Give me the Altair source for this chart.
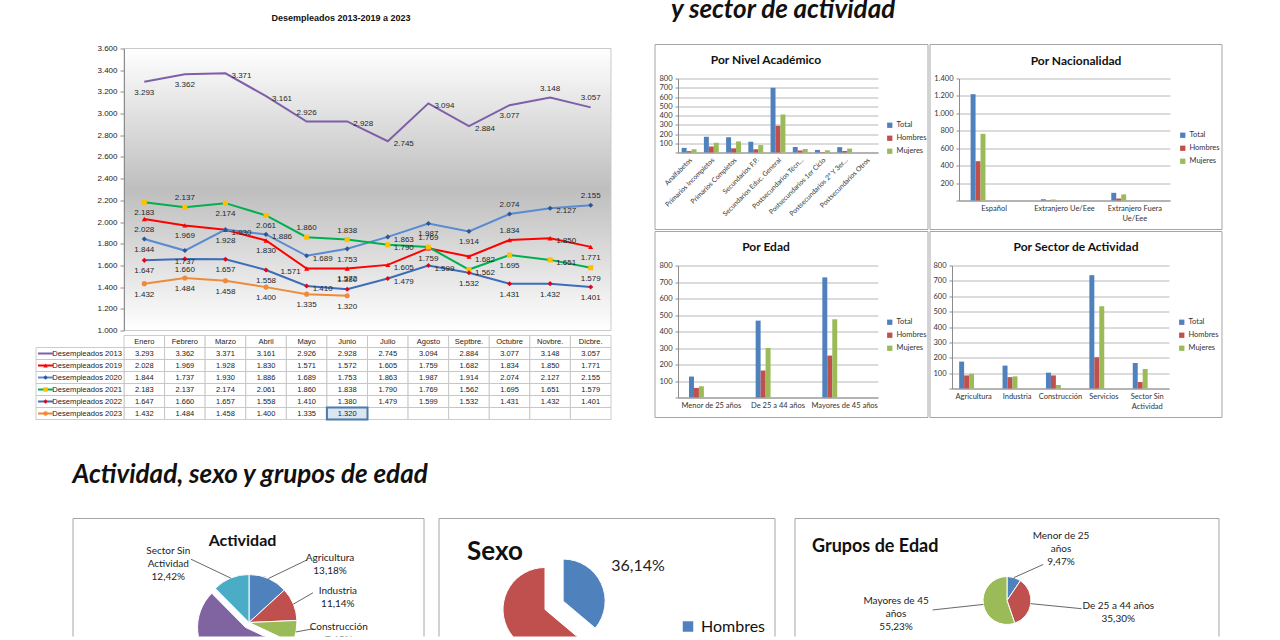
import textwrap
import altair as alt
import pandas as pd

# ------------------------------------------------------------------ data
months = ["Enero", "Febrero", "Marzo", "Abril", "Mayo", "Junio", "Julio",
          "Agosto", "Septbre.", "Octubre", "Novbre.", "Dicbre."]
series_names = ["Desempleados 2013", "Desempleados 2019", "Desempleados 2020",
                "Desempleados 2021", "Desempleados 2022", "Desempleados 2023"]
desempleados_2013 = [3293, 3362, 3371, 3161, 2926, 2928, 2745, 3094, 2884, 3077, 3148, 3057]
desempleados_2019 = [2028, 1969, 1928, 1830, 1571, 1572, 1605, 1759, 1682, 1834, 1850, 1771]
desempleados_2020 = [1844, 1737, 1930, 1886, 1689, 1753, 1863, 1987, 1914, 2074, 2127, 2155]
desempleados_2021 = [2183, 2137, 2174, 2061, 1860, 1838, 1790, 1769, 1562, 1695, 1651, 1579]
desempleados_2022 = [1647, 1660, 1657, 1558, 1410, 1380, 1479, 1599, 1532, 1431, 1432, 1401]
desempleados_2023 = [1432, 1484, 1458, 1400, 1335, 1320]
line_ticks = [1000, 1200, 1400, 1600, 1800, 2000, 2200, 2400, 2600, 2800, 3000, 3200, 3400, 3600]

grupos = ["Total", "Hombres", "Mujeres"]

nivel_cats = ["Analfabetos", "Primarios Incompletos", "Primarios Completos", "Secundarios F.P.",
              "Secundarios Educ. General", "Postsecundarios Técn…", "Postsecundarios 1er Ciclo",
              "Postsecundarios 2º Y 3er…", "Postsecundarios Otros"]
nivel_total = [50, 170, 165, 115, 700, 60, 28, 58, 0]
nivel_hombres = [15, 65, 45, 35, 290, 22, 4, 16, 0]
nivel_mujeres = [35, 105, 120, 80, 410, 38, 24, 42, 0]

nac_cats = ["Español", "Extranjero Ue/Eee", "Extranjero Fuera Ue/Eee"]
nac_total = [1220, 15, 88]
nac_hombres = [451, 3, 23]
nac_mujeres = [765, 11, 70]

edad_cats = ["Menor de 25 años", "De 25 a 44 años", "Mayores de 45 años"]
edad_total = [127, 466, 728]
edad_hombres = [58, 163, 254]
edad_mujeres = [68, 300, 474]

sector_cats = ["Agricultura", "Industria", "Construcción", "Servicios", "Sector Sin Actividad"]
sector_total = [175, 149, 103, 737, 166]
sector_hombres = [85, 74, 85, 203, 42]
sector_mujeres = [96, 79, 22, 535, 127]

act_cats = ["Agricultura", "Industria", "Construcción", "Servicios", "Sector Sin Actividad"]
act_pct = [13.18, 11.14, 7.65, 55.61, 12.42]
sexo_cats = ["Hombres", "Mujeres"]
sexo_pct = [36.14, 63.86]
grupo_cats = ["Menor de 25 años", "De 25 a 44 años", "Mayores de 45 años"]
grupo_pct = [9.47, 35.30, 55.23]

# ------------------------------------------------------------------ styles
ARIAL = "Liberation Sans"
LATO = "Lato"
BOX = "#A6A6A6"
THOUSANDS = "replace(format(datum.value, ','), ',', '.')"
line_colors = ["#7F5FA8", "#FF0000", "#5A8AD0", "#00B050", "#3E6DB8", "#EE8B3A"]
marker_colors = ["#7F5FA8", "#FF0000", "#2F5597", "#FFC000", "#E3061B", "#EE8B3A"]
marker_shapes = ["circle", "triangle-up", "diamond", "square", "diamond", "circle"]
bar_colors = ["#4F81BD", "#C0504D", "#9BBB59"]
pie_colors5 = ["#4F81BD", "#C0504D", "#9BBB59", "#8064A2", "#4BACC6"]
# data-label placement per series (B below, A above, R right, L left), as in the original workbook
label_place = {
    "Desempleados 2013": "B B R R A R R R R B A A",
    "Desempleados 2019": "B B B B L B R B R A R B",
    "Desempleados 2020": "B B R R R B R B B A R A",
    "Desempleados 2021": "B A B B A A R A R B R B",
    "Desempleados 2022": "B B B B R A R R B B B B",
    "Desempleados 2023": "B B B B B B",
}
place_style = {
    "B": dict(dx=0, dy=11, align="center"),
    "A": dict(dx=0, dy=-9, align="center"),
    "R": dict(dx=6, dy=3, align="left"),
    "L": dict(dx=-6, dy=3, align="right"),
}

one = pd.DataFrame({"k": [0]})


def fmt_int(v):
    return f"{v:,}".replace(",", ".")


def txt(text, x, y, size, font=LATO, weight="normal", style="normal", align="left",
        baseline="alphabetic", color="#111"):
    return alt.Chart(one).mark_text(
        text=text, font=font, fontSize=size, fontWeight=weight, fontStyle=style,
        align=align, baseline=baseline, color=color
    ).encode(x=alt.value(x), y=alt.value(y))


# ------------------------------------------------------------------ line chart
LINE_W, LINE_H, TABLE_H, LABEL_COL = 487, 282, 84, 88

line_rows = []
for name, vals in zip(series_names, [desempleados_2013, desempleados_2019, desempleados_2020,
                                     desempleados_2021, desempleados_2022, desempleados_2023]):
    places = label_place[name].split()
    for m, v, p in zip(months, vals, places):
        line_rows.append({"serie": name, "mes": m, "valor": v, "txt": fmt_int(v), "pos": p})
df_line = pd.DataFrame(line_rows)

X_LINE = alt.X("mes:N", sort=months, axis=None,
               scale=alt.Scale(type="point", domain=months, padding=0.5))
Y_LINE = alt.Y("valor:Q", scale=alt.Scale(domain=[1000, 3600], nice=False, zero=False),
               axis=alt.Axis(values=line_ticks, title=None, grid=False, labelExpr=THOUSANDS,
                             labelFont=ARIAL, labelFontSize=8, labelColor="#222",
                             domainColor="#8C8C8C", tickColor="#8C8C8C", tickSize=4,
                             labelPadding=3, zindex=1))
line_color = alt.Color("serie:N", scale=alt.Scale(domain=series_names, range=line_colors), legend=None)
marker_fill = alt.Fill("serie:N", scale=alt.Scale(domain=series_names, range=marker_colors), legend=None)
marker_shape = alt.Shape("serie:N", scale=alt.Scale(domain=series_names, range=marker_shapes), legend=None)

gradient = alt.LinearGradient(
    gradient="linear", x1=0, x2=0, y1=0, y2=1,
    stops=[alt.GradientStop(color="#FFFFFF", offset=0),
           alt.GradientStop(color="#BEBEBE", offset=0.5),
           alt.GradientStop(color="#FFFFFF", offset=1)])
bg = alt.Chart(one).mark_rect(fill=gradient, stroke="#C9C9C9", strokeWidth=1).encode(
    x=alt.value(0), x2=alt.value(LINE_W), y=alt.value(0), y2=alt.value(LINE_H))
anchor = alt.Chart(one).mark_rule(opacity=0).encode(
    x=alt.value(0), x2=alt.value(2), y=alt.value(-48))
line_title = txt("Desempleados 2013-2019 a 2023", 217, -31, 9, font=ARIAL, weight="bold",
                 align="center", baseline="middle")
lines = alt.Chart(df_line).mark_line(strokeWidth=2).encode(x=X_LINE, y=Y_LINE, color=line_color)
points = alt.Chart(df_line).transform_filter(alt.datum.serie != series_names[0]).mark_point(
    filled=True, size=26, strokeWidth=0, opacity=1).encode(
    x=X_LINE, y=Y_LINE, fill=marker_fill, shape=marker_shape)
labels = [
    alt.Chart(df_line).transform_filter(alt.datum.pos == code).mark_text(
        font=ARIAL, fontSize=8, color="#262626", baseline="middle", **st).encode(
        x=X_LINE, y=Y_LINE, text="txt:N")
    for code, st in place_style.items()
]
line_chart = alt.layer(bg, anchor, line_title, lines, points, *labels).properties(
    width=LINE_W, height=LINE_H)

# ------------------------------------------------------------------ table under the line chart
HEADER = "Mes"
table_rows = [HEADER] + series_names
tab = []
for fila, vals in zip(table_rows, [months, desempleados_2013, desempleados_2019, desempleados_2020,
                                   desempleados_2021, desempleados_2022, desempleados_2023]):
    for i, m in enumerate(months):
        if fila == HEADER:
            t = m
        else:
            t = fmt_int(vals[i]) if i < len(vals) else ""
        tab.append({"fila": fila, "mes": m, "txt": t})
df_table = pd.DataFrame(tab)
df_rowlab = pd.DataFrame({"fila": series_names})

xs_tab = alt.Scale(type="band", domain=months, paddingInner=0, paddingOuter=0)
ys_tab = alt.Scale(type="band", domain=table_rows, paddingInner=0, paddingOuter=0)
X_TAB = alt.X("mes:N", scale=xs_tab, axis=None)
Y_TAB = alt.Y("fila:N", scale=ys_tab, axis=None)
X_TAB_C = alt.X("mes:N", scale=xs_tab, axis=None, bandPosition=0.5)
Y_TAB_C = alt.Y("fila:N", scale=ys_tab, axis=None, bandPosition=0.5)

grid = alt.Chart(df_table).mark_rect(fill="white", stroke="#BFBFBF", strokeWidth=0.8).encode(
    x=X_TAB, y=Y_TAB)
highlight = alt.Chart(df_table).transform_filter(
    (alt.datum.fila == "Desempleados 2023") & (alt.datum.mes == "Junio")).mark_rect(
    fill="#DCE6F1", stroke="#4A7AAE", strokeWidth=2).encode(x=X_TAB, y=Y_TAB)
labcells = alt.Chart(df_rowlab).mark_rect(fill="white", stroke="#BFBFBF", strokeWidth=0.8).encode(
    x=alt.value(-LABEL_COL), x2=alt.value(0), y=Y_TAB)
rowlab = alt.Chart(df_rowlab).mark_text(align="right", baseline="middle", dx=-2, font=ARIAL,
                                        fontSize=7.6, color="#222").encode(
    x=alt.value(0), y=Y_TAB_C, text="fila:N")
sym_line = alt.Chart(df_rowlab.assign(serie=df_rowlab["fila"])).mark_rule(strokeWidth=2).encode(
    x=alt.value(-86), x2=alt.value(-71), y=Y_TAB_C, color=line_color)
sym_pt = alt.Chart(df_rowlab.assign(serie=df_rowlab["fila"])).transform_filter(
    alt.datum.serie != series_names[0]).mark_point(filled=True, size=20, strokeWidth=0, opacity=1).encode(
    x=alt.value(-78.5), y=Y_TAB_C, fill=marker_fill, shape=marker_shape)
cells = alt.Chart(df_table).mark_text(font=ARIAL, fontSize=7.5, color="#222", baseline="middle").encode(
    x=X_TAB_C, y=Y_TAB_C, text="txt:N")
table_chart = alt.layer(grid, highlight, labcells, rowlab, sym_line, sym_pt, cells).properties(
    width=LINE_W, height=TABLE_H)


# ------------------------------------------------------------------ grouped bar panels
def wrap_expr(cats, width):
    expr = "datum.label"
    for c in cats:
        parts = textwrap.wrap(c, width)
        if len(parts) > 1:
            arr = "[" + ", ".join("'" + p + "'" for p in parts) + "]"
            expr = f"datum.label == '{c}' ? {arr} : ({expr})"
    return expr


def bar_panel(title, cats, total, hombres, mujeres, W, H, ytop, ymax, ystep, box, title_xy,
              legend_xy, label_angle=0, label_size=7.5, wrap=40, extra=()):
    df = pd.DataFrame([{"cat": c, "grupo": g, "valor": v}
                       for c, t, h, m in zip(cats, total, hombres, mujeres)
                       for g, v in zip(grupos, (t, h, m))])
    bars = alt.Chart(df).mark_bar().encode(
        x=alt.X("cat:N", sort=cats, title=None,
                scale=alt.Scale(domain=cats, paddingInner=0.33, paddingOuter=0.165),
                axis=alt.Axis(labelAngle=label_angle, labelFont=LATO, labelFontSize=label_size,
                              labelColor="#333", ticks=False, domainColor="#8C8C8C",
                              labelPadding=4, labelExpr=wrap_expr(cats, wrap), labelLineHeight=10)),
        xOffset=alt.XOffset("grupo:N", sort=grupos, scale=alt.Scale(domain=grupos, paddingInner=0)),
        y=alt.Y("valor:Q", title=None,
                scale=alt.Scale(domain=[0, ymax], range=[H, ytop], nice=False, zero=True),
                axis=alt.Axis(values=list(range(0, ymax + 1, ystep)),
                              labelExpr="datum.value == 0 ? '' : " + THOUSANDS,
                              labelFont=LATO, labelFontSize=7.5, labelColor="#333",
                              grid=True, gridColor="#A6A6A6", gridWidth=0.8,
                              domainColor="#8C8C8C", tickColor="#8C8C8C", tickSize=3,
                              labelPadding=3)),
        color=alt.Color("grupo:N", scale=alt.Scale(domain=grupos, range=bar_colors),
                        legend=alt.Legend(orient="none", legendX=legend_xy[0], legendY=legend_xy[1],
                                          title=None, symbolType="square", symbolSize=28,
                                          symbolStrokeWidth=0, labelFont=LATO, labelFontSize=7.5,
                                          labelColor="#333", rowPadding=4, labelOffset=3)),
    )
    frame = alt.Chart(one).mark_rect(fill="white", fillOpacity=0, stroke=BOX, strokeWidth=1).encode(
        x=alt.value(box[0]), x2=alt.value(box[1]), y=alt.value(box[2]), y2=alt.value(box[3]))
    ttl = txt(title, title_xy[0], title_xy[1], 12, weight="bold", align="center", baseline="middle")
    return alt.layer(frame, *extra, ttl, bars).properties(width=W, height=H)


heading1 = txt("y sector de actividad", -7, -31, 26, weight="bold", style="italic")
b1 = bar_panel("Por Nivel Académico", nivel_cats, nivel_total, nivel_hombres, nivel_mujeres,
               W=200, H=104, ytop=30, ymax=800, ystep=100, box=(-23, 250, -4, 181),
               title_xy=(88, 11), legend_xy=(208, 73), label_angle=-45, label_size=6.8,
               extra=(heading1,))
b2 = bar_panel("Por Nacionalidad", nac_cats, nac_total, nac_hombres, nac_mujeres,
               W=211, H=152, ytop=30, ymax=1400, ystep=200, box=(-29, 263, -4, 181),
               title_xy=(117, 12), legend_xy=(220, 83), wrap=17)
b3 = bar_panel("Por Edad", edad_cats, edad_total, edad_hombres, edad_mujeres,
               W=200, H=132, ytop=0, ymax=800, ystep=100, box=(-23, 250, -34, 152),
               title_xy=(88, -19), legend_xy=(208, 53))
b4 = bar_panel("Por Sector de Actividad", sector_cats, sector_total, sector_hombres, sector_mujeres,
               W=217, H=123, ytop=0, ymax=800, ystep=100, box=(-22, 270, -34, 152),
               title_xy=(124, -19), legend_xy=(226, 53), wrap=12)


# ------------------------------------------------------------------ pies
def pie_panel(cats, pcts, colors, W, H, cx, cy, R, explode, lab, lab_size, wrap, show_name,
              leader, box_left, texts=(), legend=None):
    rows = []
    for c, p in zip(cats, pcts):
        pct = f"{p:.2f}%".replace(".", ",")
        lbl = "\n".join(textwrap.wrap(c, wrap) + [pct]) if show_name else pct
        rows.append({"cat": c, "pct": p, "lbl": lbl, "nl": lbl.count("\n") + 1})
    df = pd.DataFrame(rows)
    A, B, C, D0 = lab
    lh = lab_size + 3
    kx, ky, E = leader if leader else (0, 0, 0)
    ex_expr = "0"
    for c, e in explode.items():
        ex_expr = f"datum.cat == '{c}' ? {e} : ({ex_expr})"
    base = alt.Chart(df).transform_window(cum="sum(pct)", frame=[None, 0]).transform_calculate(
        a0="(datum.cum - datum.pct) / 100 * 2 * PI",
        a1="datum.cum / 100 * 2 * PI",
        mid="(datum.a0 + datum.a1) / 2",
        sn="sin(datum.mid)",
        cs="cos(datum.mid)",
        ex=ex_expr,
        acx=f"{cx} + datum.ex * datum.sn",
        acy=f"{cy} - datum.ex * datum.cs",
        lx=f"{cx} + (datum.sn >= 0 ? 1 : -1) * ({A} + {B} * abs(datum.sn))",
        lyc=f"{cy} - {C} * datum.cs + {D0}",
        ly=f"datum.lyc - (datum.nl - 1) * {lh} / 2",
        p0x=f"datum.acx + {R} * datum.sn",
        p0y=f"datum.acy - {R} * datum.cs",
        p1x=f"{cx} + {kx} * (datum.lx - {cx})",
        p1y=f"{cy} + {ky} * (datum.lyc - {cy}) - {E}",
    )
    arcs = base.mark_arc(radius=R, clip=True, stroke="white", strokeWidth=1).encode(
        theta=alt.Theta("a0:Q", scale=None), theta2=alt.Theta2("a1:Q"),
        x=alt.X("acx:Q", scale=None), y=alt.Y("acy:Q", scale=None),
        color=alt.Color("cat:N", scale=alt.Scale(domain=cats, range=colors),
                        legend=legend if legend is not None else None))
    layers = []
    rule_style = dict(color=BOX, strokeWidth=1)
    layers.append(alt.Chart(one).mark_rule(**rule_style).encode(
        x=alt.value(box_left), x2=alt.value(W), y=alt.value(0)))
    layers.append(alt.Chart(one).mark_rule(**rule_style).encode(
        x=alt.value(box_left), y=alt.value(0), y2=alt.value(H)))
    layers.append(alt.Chart(one).mark_rule(**rule_style).encode(
        x=alt.value(W), y=alt.value(0), y2=alt.value(H)))
    layers.extend(texts)
    layers.append(arcs)
    if leader:
        layers.append(base.mark_rule(clip=True, color="#404040", strokeWidth=0.8).encode(
            x=alt.X("p0x:Q", scale=None), y=alt.Y("p0y:Q", scale=None),
            x2=alt.X2("p1x:Q"), y2=alt.Y2("p1y:Q")))
    layers.append(base.mark_text(lineBreak="\n", font=LATO, fontSize=lab_size, color="#222",
                                 align="center", baseline="middle", lineHeight=lh,
                                 clip=True).encode(
        x=alt.X("lx:Q", scale=None), y=alt.Y("ly:Q", scale=None), text="lbl:N"))
    return alt.layer(*layers).properties(width=W, height=H)


PIE_H = 118
heading2 = txt("Actividad, sexo y grupos de edad", -51.5, -36, 26, weight="bold", style="italic")
p1 = pie_panel(act_cats, act_pct, pie_colors5, W=300, H=PIE_H, cx=125, cy=104, R=48,
               explode={"Servicios": 6}, lab=(75, 15, 62, -1), lab_size=10, wrap=12,
               show_name=True, leader=(0.72, 1.0, 5), box_left=-51,
               texts=(heading2, txt("Actividad", 118.5, 27, 16, weight="bold", align="center")))
sexo_legend = alt.Legend(orient="none", legendX=241, legendY=100, title=None, values=["Hombres"],
                         symbolType="square", symbolSize=110, symbolStrokeWidth=0,
                         labelFont=LATO, labelFontSize=16, labelColor="#111", labelOffset=5)
p2 = pie_panel(sexo_cats, sexo_pct, ["#4F81BD", "#C0504D"], W=336, H=PIE_H, cx=106, cy=91, R=42,
               explode={"Hombres": 20}, lab=(93, 0, 104, 0), lab_size=16, wrap=20, show_name=False,
               leader=None, box_left=0,
               texts=(txt("Sexo", 28, 41, 26, weight="bold"),), legend=sexo_legend)
p3 = pie_panel(grupo_cats, grupo_pct, ["#4F81BD", "#C0504D", "#9BBB59"], W=424, H=PIE_H,
               cx=212, cy=82, R=24, explode={}, lab=(30, 82, 58, 4), lab_size=10, wrap=15,
               show_name=True, leader=(0.67, 0.7, 0), box_left=0,
               texts=(txt("Grupos de Edad", 17, 33, 18, weight="bold"),))

# ------------------------------------------------------------------ layout
IND = dict(color="independent", fill="independent", shape="independent",
           x="independent", y="independent")

left_block = alt.vconcat(line_chart, table_chart, spacing=0).resolve_scale(**IND)
right_block = alt.vconcat(
    alt.hconcat(b1, b2, spacing=0).resolve_scale(**IND),
    alt.hconcat(b3, b4, spacing=0).resolve_scale(**IND),
    spacing=0).resolve_scale(**IND)
row_a = alt.hconcat(left_block, right_block, spacing=42).resolve_scale(**IND)
row_c = alt.hconcat(p1, alt.hconcat(p2, p3, spacing=18).resolve_scale(**IND),
                    spacing=9).resolve_scale(**IND)

chart = alt.vconcat(row_a, row_c, spacing=41).resolve_scale(**IND).properties(
    padding={"left": 35, "top": -3.5, "right": 0, "bottom": 0},
    background="white",
).configure_view(stroke=None)

chart.save("out.html", embed_options={"renderer": "svg", "actions": False})
